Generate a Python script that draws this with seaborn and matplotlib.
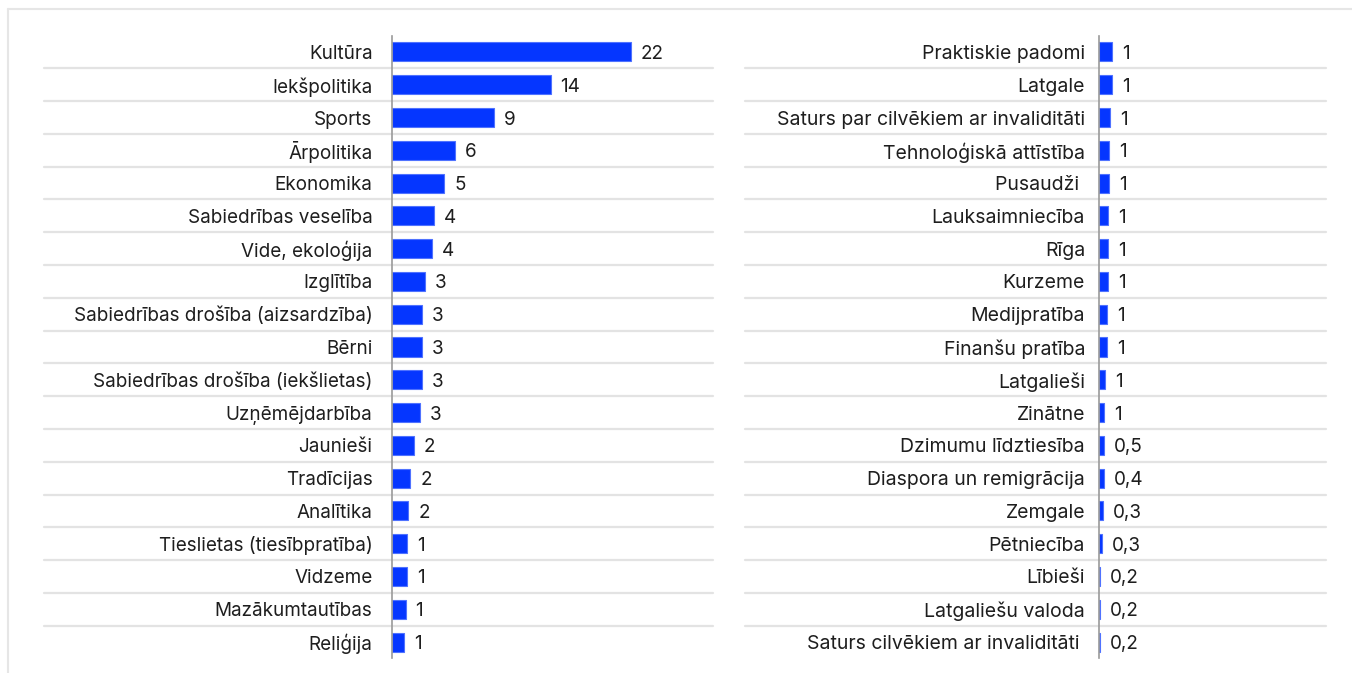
import numpy as np
import pandas as pd
import matplotlib
matplotlib.use('Agg')
import matplotlib.pyplot as plt
import seaborn as sns

# left panel
left_topics = ['Kultūra', 'Iekšpolitika', 'Sports', 'Ārpolitika', 'Ekonomika',
               'Sabiedrības veselība', 'Vide, ekoloģija', 'Izglītība',
               'Sabiedrības drošība (aizsardzība)', 'Bērni',
               'Sabiedrības drošība (iekšlietas)', 'Uzņēmējdarbība', 'Jaunieši',
               'Tradīcijas', 'Analītika', 'Tieslietas (tiesībpratība)', 'Vidzeme',
               'Mazākumtautības', 'Reliģija']
left_values = [22.0, 14.6, 9.4, 5.8, 4.8, 3.9, 3.7, 3.0, 2.75, 2.75, 2.75, 2.6,
               2.0, 1.7, 1.5, 1.35, 1.35, 1.25, 1.15]
left_labels = ['22', '14', '9', '6', '5', '4', '4', '3', '3', '3', '3', '3',
               '2', '2', '2', '1', '1', '1', '1']

# right panel
right_topics = ['Praktiskie padomi', 'Latgale', 'Saturs par cilvēkiem ar invaliditāti',
                'Tehnoloģiskā attīstība', 'Pusaudži ', 'Lauksaimniecība', 'Rīga',
                'Kurzeme', 'Medijpratība', 'Finanšu pratība', 'Latgalieši', 'Zinātne',
                'Dzimumu līdztiesība', 'Diaspora un remigrācija', 'Zemgale',
                'Pētniecība', 'Lībieši', 'Latgaliešu valoda',
                'Saturs cilvēkiem ar invaliditāti ']
right_values = [1.17, 1.17, 1.05, 0.95, 0.95, 0.83, 0.83, 0.83, 0.74, 0.74, 0.55,
                0.45, 0.45, 0.43, 0.34, 0.25, 0.12, 0.12, 0.12]
right_labels = ['1', '1', '1', '1', '1', '1', '1', '1', '1', '1', '1', '1',
                '0,5', '0,4', '0,3', '0,3', '0,2', '0,2', '0,2']

sns.set_style('white')
plt.rcParams['font.family'] = ['Inter', 'DejaVu Sans']

BLUE = '#0536ff'
TXT = '#1e1e1e'
GRID = '#e3e3e3'
FS = 13.6

fig = plt.figure(figsize=(13.52, 6.73), dpi=100)
ax1 = fig.add_axes([392 / 1352, 0.0217, 321 / 1352, 0.9254])
ax2 = fig.add_axes([1099 / 1352, 0.0217, 227 / 1352, 0.9254])


def draw_panel(ax, topics, values, labels, xmax, sep_start, pad, fs):
    df = pd.DataFrame({'topic': topics, 'value': values})
    sns.barplot(data=df, y='topic', x='value', orient='h', color=BLUE,
                saturation=1, width=0.58, edgecolor='#4f72ff', linewidth=0.8, ax=ax)
    ax.set_xlim(0, xmax)
    ax.set_ylim(len(topics) - 0.5, -0.5)
    ax.set_xlabel('')
    ax.set_ylabel('')
    ax.set_xticks([])
    for s in ['top', 'right', 'bottom']:
        ax.spines[s].set_visible(False)
    ax.spines['left'].set_color('#9a9a9a')
    ax.spines['left'].set_linewidth(1.2)
    ax.tick_params(axis='y', length=0, pad=pad, labelsize=fs, labelcolor=TXT)
    for t in ax.get_yticklabels():
        t.set_verticalalignment('center_baseline')
    # row separators running through the label area
    tr = ax.get_yaxis_transform()
    for i in range(len(topics) - 1):
        ax.plot([sep_start, 1], [i + 0.5, i + 0.5], transform=tr, color=GRID,
                lw=1.6, clip_on=False, zorder=0)
    off = xmax * 10 / (ax.get_position().width * 1352)
    for i, (v, lab) in enumerate(zip(values, labels)):
        ax.text(v + off, i, lab, va='center_baseline', ha='left', fontsize=FS, color=TXT)


draw_panel(ax1, left_topics, left_values, left_labels, 29.55, -1.084, 14, FS)
draw_panel(ax2, right_topics, right_values, right_labels, 20.9, -1.559, 10, 14.0)

# frame edges of the original card
fig.add_artist(plt.Line2D([8 / 1352, 1], [1 - 9 / 673, 1 - 9 / 673], color='#e6e6e6', lw=1.5))
fig.add_artist(plt.Line2D([8 / 1352, 8 / 1352], [0, 1 - 9 / 673], color='#e6e6e6', lw=1.5))

fig.savefig('out.png', dpi=100, facecolor='white')
